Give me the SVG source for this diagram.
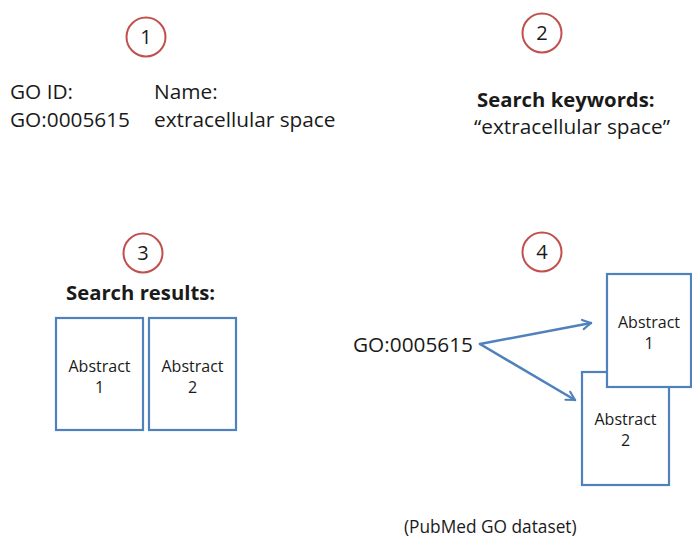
<svg xmlns="http://www.w3.org/2000/svg" width="692" height="540" viewBox="0 0 692 540">
  <defs>
    <style>
      .step { fill: #ffffff; stroke: #c0504d; stroke-width: 2; }
      .num { font-family: "Open Sans", "Noto Sans", sans-serif; font-size: 20px; fill: #1a1a1a; text-anchor: middle; }
      .lbl { font-family: "Open Sans", "Noto Sans", sans-serif; font-size: 20.8px; fill: #1a1a1a; }
      .bold { font-weight: bold; font-size: 20.3px; }
      .doc { fill: #ffffff; stroke: #4f81bd; stroke-width: 2.2; }
      .doctext { font-family: "Open Sans", "Noto Sans", sans-serif; font-size: 16px; fill: #1a1a1a; text-anchor: middle; }
      .conn { fill: none; stroke: #4f81bd; stroke-width: 2.5; stroke-linecap: round; }
    </style>
    <marker id="arrow" viewBox="0 0 12 12" refX="10" refY="6" markerWidth="5" markerHeight="5" markerUnits="strokeWidth" orient="auto">
      <path d="M2,1.5 L10,6 L2,10.5" fill="none" stroke="#4f81bd" stroke-width="2" stroke-linecap="round" stroke-linejoin="round"/>
    </marker>
  </defs>

  <rect width="692" height="540" fill="#ffffff"/>

  <!-- Step 1: GO term -->
  <g id="step1">
    <circle class="step" cx="146" cy="37" r="19.5"/>
    <text class="num" x="146" y="44">1</text>
    <text class="lbl" x="10" y="99">GO ID:</text>
    <text class="lbl" x="10" y="127">GO:0005615</text>
    <text class="lbl" x="154" y="99">Name:</text>
    <text class="lbl" x="154" y="127">extracellular space</text>
  </g>

  <!-- Step 2: keywords -->
  <g id="step2">
    <circle class="step" cx="542" cy="33" r="19.5"/>
    <text class="num" x="542" y="40">2</text>
    <text class="lbl bold" x="477" y="107">Search keywords:</text>
    <text class="lbl" x="474" y="134">“extracellular space”</text>
  </g>

  <!-- Step 3: search results -->
  <g id="step3">
    <circle class="step" cx="143" cy="253" r="19.5"/>
    <text class="num" x="143" y="260">3</text>
    <text class="lbl bold" x="66" y="300">Search results:</text>
  </g>
  <g id="result1">
    <rect class="doc" x="56" y="318" width="87" height="112"/>
    <text class="doctext" x="99.5" y="372">Abstract</text>
    <text class="doctext" x="99.5" y="393">1</text>
  </g>
  <g id="result2">
    <rect class="doc" x="149" y="318" width="87" height="112"/>
    <text class="doctext" x="192.5" y="372">Abstract</text>
    <text class="doctext" x="192.5" y="393">2</text>
  </g>

  <!-- Step 4: dataset -->
  <g id="step4">
    <circle class="step" cx="542" cy="252" r="19.5"/>
    <text class="num" x="542" y="259">4</text>
  </g>
  <g id="goterm">
    <text class="lbl" x="353" y="352">GO:0005615</text>
  </g>
  <g id="abstract2">
    <rect class="doc" x="582" y="372" width="87" height="113"/>
    <text class="doctext" x="625.5" y="425">Abstract</text>
    <text class="doctext" x="625.5" y="446">2</text>
  </g>
  <g id="abstract1">
    <rect class="doc" x="607" y="274" width="84" height="113"/>
    <text class="doctext" x="649" y="328">Abstract</text>
    <text class="doctext" x="649" y="349">1</text>
  </g>
  <g id="caption">
    <text class="lbl" x="404" y="533" style="font-size:17.3px">(PubMed GO dataset)</text>
  </g>

  <!-- Connectors -->
  <g id="connectors">
    <path class="conn" d="M480,344 L591,323" marker-end="url(#arrow)"/>
    <path class="conn" d="M480,344 L575,400" marker-end="url(#arrow)"/>
  </g>
</svg>
